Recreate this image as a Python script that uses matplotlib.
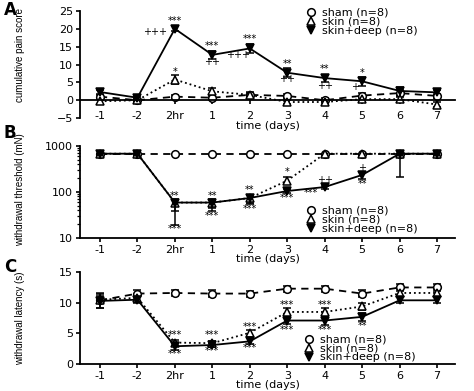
import numpy as np
import matplotlib.pyplot as plt
from matplotlib.lines import Line2D
from matplotlib.ticker import LogLocator, NullFormatter, FixedLocator

plt.rcParams['font.family'] = ['DejaVu Sans']

# time points
cats = ['-1', '-2', '2hr', '1', '2', '3', '4', '5', '6', '7']
groups = ['sham (n=8)', 'skin (n=8)', 'skin+deep (n=8)']

# A: cumulative pain score
painSham = [1.0, 0.0, 1.0, 0.7, 1.5, 1.2, 0.0, 1.3, 2.0, 1.2]
painShamErr = [0.6, 0.3, 0.6, 0.5, 0.6, 0.6, 0.5, 0.8, 1.0, 0.6]
painSkin = [-0.3, 0.0, 5.8, 2.5, 1.5, -0.5, -0.5, 0.3, 0.3, -1.2]
painSkinErr = [0.8, 0.3, 1.2, 0.8, 0.8, 0.6, 0.6, 0.8, 0.8, 0.6]
painDeep = [2.3, 0.7, 20.0, 12.7, 14.5, 7.7, 6.2, 5.3, 2.6, 2.2]
painDeepErr = [0.6, 0.5, 0.7, 1.2, 1.3, 1.2, 1.0, 1.3, 1.2, 0.8]

# B: withdrawal threshold (mN)
threshSham = [676, 676, 676, 676, 676, 676, 676, 676, 676, 676]
threshSkin = [676, 676, 59, 59, 74, 176, 676, 676, 676, 676]
threshSkinLo = [0, 0, 20, 15, 15, 30, 0, 0, 0, 0]
threshSkinHi = [0, 0, 10, 10, 12, 30, 0, 0, 0, 0]
threshDeep = [676, 676, 59, 59, 74, 105, 128, 234, 676, 676]
threshDeepLo = [0, 0, 40, 20, 19, 12, 12, 44, 461, 0]
threshDeepHi = [0, 0, 8, 8, 10, 10, 10, 40, 0, 0]

# C: withdrawal latency (s)
latSham = [10.4, 11.5, 11.6, 11.5, 11.5, 12.3, 12.3, 11.5, 12.5, 12.5]
latShamErr = [1.2, 0.6, 0.5, 0.6, 0.5, 0.5, 0.5, 0.6, 0.5, 0.6]
latSkin = [10.5, 10.8, 3.5, 3.4, 5.1, 8.5, 8.5, 9.4, 11.6, 11.6]
latSkinErr = [0.6, 0.6, 0.5, 0.4, 0.5, 0.6, 0.6, 0.6, 0.6, 0.6]
latDeep = [10.3, 10.5, 2.9, 3.1, 3.7, 7.1, 7.1, 7.7, 10.4, 10.4]
latDeepErr = [1.1, 0.5, 0.6, 0.4, 0.5, 0.6, 0.7, 0.7, 0.5, 0.5]

# significance marks: (x index, y value, text)
marksA = [(2, 22.3, '***'), (3, 15.3, '***'), (4, 17.2, '***'), (5, 10.1, '**'),
          (6, 8.7, '**'), (7, 7.6, '*'), (2, 7.9, '*'),
          (1.47, 19.2, '+++'), (3.0, 10.7, '++'), (3.69, 12.6, '+++'),
          (5.0, 6.0, '++'), (6.0, 4.1, '++'), (6.82, 3.8, '+')]
marksB = [(2, 80, '**'), (2, 15.5, '***'), (3, 80, '**'), (3, 30, '***'),
          (4, 112, '**'), (4, 43, '***'), (5, 265, '*'), (5, 74, '***'),
          (5.62, 95, '***'), (6, 182, '++'), (7, 335, '+'), (7, 150, '**')]
marksC = [(2, 4.8, '***'), (2, 1.6, '***'), (3, 4.8, '***'), (3, 2.1, '***'),
          (4, 6.1, '***'), (4, 2.6, '***'), (5, 9.7, '***'), (5, 5.6, '***'),
          (6, 9.7, '***'), (6, 5.6, '***'), (7, 6.2, '**')]

x = np.arange(len(cats))
fig = plt.figure(figsize=(4.74, 3.91), dpi=100)
axA = fig.add_axes([0.169, 0.698, 0.791, 0.274])
axB = fig.add_axes([0.169, 0.391, 0.791, 0.236])
axC = fig.add_axes([0.169, 0.069, 0.791, 0.235])

styles = [
    dict(marker='o', ls=(0, (4, 3)), mfc='white', ms=5.5),
    dict(marker='^', ls=':', mfc='white', ms=6),
    dict(marker='v', ls='-', mfc='black', ms=6),
]


def draw(ax, ys, errs):
    for st, y, e in zip(styles, ys, errs):
        ax.errorbar(x, y, yerr=e, color='black', lw=1.3, mew=1.1, capsize=3,
                    elinewidth=1.1, capthick=1.1, clip_on=False, **st)


def marks(ax, lst):
    for xi, yi, t in lst:
        ax.text(xi, yi, t, ha='center', va='center', fontsize=7, color='black')


def legend(ax, pos):
    # marker-only handles, like the original
    hs = [Line2D([], [], color='black', ls='none', marker=st['marker'],
                 mfc=st['mfc'], ms=st['ms'], mew=1.1) for st in styles]
    ax.legend(hs, groups, loc='upper left', bbox_to_anchor=pos,
              frameon=False, fontsize=8, handlelength=1.0, handletextpad=0.5,
              labelspacing=-0.1, borderpad=0, borderaxespad=0)


for ax in (axA, axB, axC):
    ax.set_xlim(-0.53, 9.48)
    ax.set_xticks(x)
    ax.set_xticklabels(cats, fontsize=8)
    ax.spines['top'].set_visible(False)
    ax.spines['right'].set_visible(False)
    ax.spines['left'].set_linewidth(1.3)
    ax.spines['bottom'].set_linewidth(1.3)
    ax.tick_params(axis='both', length=3, width=1.2, labelsize=8, pad=2)
    ax.set_xlabel('time (days)', fontsize=8, labelpad=-1)

# A
draw(axA, [painSham, painSkin, painDeep], [painShamErr, painSkinErr, painDeepErr])
axA.set_ylim(-5, 25)
axA.set_yticks([-5, 0, 5, 10, 15, 20, 25])
axA.spines['bottom'].set_position(('data', 0))
axA.tick_params(axis='x', pad=5)
axA.xaxis.set_label_coords(0.5, -0.03)
marks(axA, marksA)
legend(axA, (0.6, 1.03))

# B
draw(axB, [threshSham, threshSkin, threshDeep],
     [None, [threshSkinLo, threshSkinHi], [threshDeepLo, threshDeepHi]])
axB.set_yscale('log')
axB.set_ylim(10, 1000)
axB.yaxis.set_major_locator(FixedLocator([10, 100, 1000]))
axB.set_yticklabels(['10', '100', '1000'])
axB.yaxis.set_minor_locator(LogLocator(base=10, subs=np.arange(2, 10)))
axB.yaxis.set_minor_formatter(NullFormatter())
axB.tick_params(axis='y', which='minor', length=2, width=0.9)
marks(axB, marksB)
legend(axB, (0.6, 0.35))

# C
draw(axC, [latSham, latSkin, latDeep], [latShamErr, latSkinErr, latDeepErr])
axC.set_ylim(0, 15)
axC.set_yticks([0, 5, 10, 15])
marks(axC, marksC)
legend(axC, (0.595, 0.32))

# panel letters and y labels
for lab, yy in [('A', 0.975), ('B', 0.66), ('C', 0.318)]:
    fig.text(0.008, yy, lab, fontsize=12, fontweight='bold', va='center')
for lab, yy in [('cumulative pain score', 0.859), ('withdrawal threshold (mN)', 0.514),
                ('withdrawal latency (s)', 0.187)]:
    fig.text(0.042, yy, lab, rotation=90, ha='center', va='center', fontsize=7,
             family=['Liberation Sans Narrow', 'Liberation Sans'])

fig.savefig('out.png', dpi=100)
